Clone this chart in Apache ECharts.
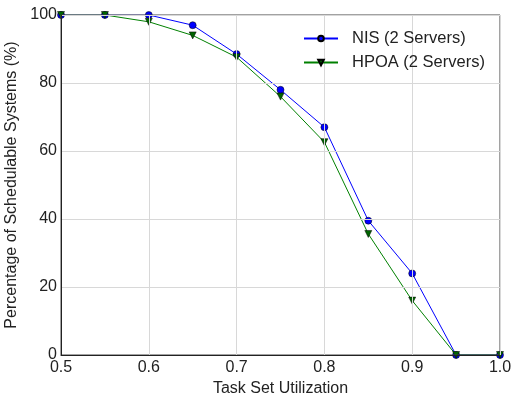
<!DOCTYPE html>
<html>
<head>
<meta charset="utf-8">
<script src="https://cdn.jsdelivr.net/npm/echarts@6/dist/echarts.min.js"></script>
<style>
  html, body { margin: 0; padding: 0; background: #fff; }
  #main { width: 513px; height: 394px; }
</style>
</head>
<body>
<div id="main"></div>
<script>
// data
const utilization = [0.5, 0.55, 0.6, 0.65, 0.7, 0.75, 0.8, 0.85, 0.9, 0.95, 1.0];
const nisValues = [100, 100, 100, 97, 88.5, 78, 67, 39.5, 24, 0, 0];
const hpoaValues = [100, 100, 98, 94, 87.6, 76, 62.6, 35.6, 16, 0, 0];

const pairs = (ys) => utilization.map((x, i) => [x, ys[i]]);

let chartDom = document.getElementById('main');
let myChart = echarts.init(chartDom);
let option;

const font = 'Liberation Sans, Arial, sans-serif';
const W = 513, H = 394;
const G = { left: 61, right: 13, top: 15, bottom: 39 };

// white masks outside the plot so the markers get clipped like in matplotlib
const mask = (x, y, w, h) => ({
  type: 'rect', z: 3, silent: true,
  shape: { x: x, y: y, width: w, height: h },
  style: { fill: '#fff' }
});

option = {
  animation: false,
  textStyle: { fontFamily: font },
  grid: {
    left: G.left, right: G.right, top: G.top, bottom: G.bottom,
    outerBoundsMode: 'none',
    containLabel: false,
    show: true,
    borderColor: '#444',
    borderWidth: 1,
    z: 5
  },
  graphic: [
    mask(0, 0, W, G.top),
    mask(0, H - G.bottom, W, G.bottom),
    mask(0, 0, G.left, H),
    mask(W - G.right, 0, G.right, H)
  ],
  legend: {
    top: 30,
    left: 303,
    padding: 0,
    orient: 'vertical',
    itemWidth: 34,
    itemHeight: 7,
    itemGap: 7,
    z: 6,
    textStyle: { fontSize: 16.5, color: '#222', fontFamily: font, padding: [0, 0, 0, 9] },
    data: ['NIS (2 Servers)', 'HPOA (2 Servers)']
  },
  xAxis: {
    type: 'value',
    min: 0.5,
    max: 1.0,
    interval: 0.1,
    z: 5,
    name: 'Task Set Utilization',
    nameLocation: 'middle',
    nameGap: 25,
    nameTextStyle: { fontSize: 16, color: '#222' },
    axisLine: { lineStyle: { color: '#222' } },
    axisTick: { show: false },
    axisLabel: {
      fontSize: 16,
      color: '#222',
      margin: 5,
      formatter: (v) => v.toFixed(1)
    },
    splitLine: { show: true, lineStyle: { color: '#d8d8d8', width: 1 } }
  },
  yAxis: {
    type: 'value',
    min: 0,
    max: 100,
    interval: 20,
    z: 5,
    name: 'Percentage of Schedulable Systems (%)',
    nameLocation: 'middle',
    nameGap: 31,
    nameTextStyle: { fontSize: 16, color: '#222' },
    axisLine: { show: true, lineStyle: { color: '#222' } },
    axisTick: { show: false },
    axisLabel: { fontSize: 16, color: '#222', margin: 4 },
    splitLine: { show: true, lineStyle: { color: '#d8d8d8', width: 1 } }
  },
  series: [
    {
      name: 'NIS (2 Servers)',
      type: 'line',
      data: pairs(nisValues),
      symbol: 'circle',
      symbolSize: 7,
      lineStyle: { color: '#0000ff', width: 1 },
      itemStyle: { color: '#0000ff', borderColor: '#000', borderWidth: 0.5 }
    },
    {
      name: 'HPOA (2 Servers)',
      type: 'line',
      data: pairs(hpoaValues),
      symbol: 'triangle',
      symbolRotate: 180,
      symbolSize: 7,
      lineStyle: { color: '#008000', width: 1 },
      itemStyle: { color: '#006400', borderColor: '#000', borderWidth: 0.5 }
    }
  ]
};

option && myChart.setOption(option);
window.addEventListener('resize', () => {
  myChart.resize();
});
</script>
</body>
</html>
